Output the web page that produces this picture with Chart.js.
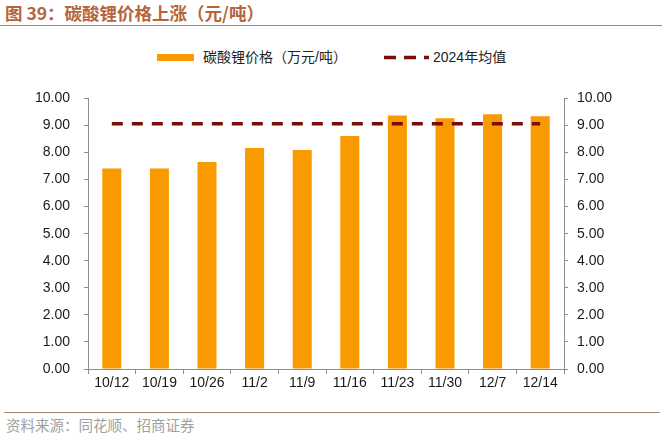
<!DOCTYPE html>
<html>
<head>
<meta charset="utf-8">
<script src="https://cdn.jsdelivr.net/npm/chart.js@4"></script>
<style>
  body { margin: 0; background: #fff; }
  #page { position: relative; width: 666px; height: 448px; overflow: hidden; font-family: "Liberation Sans", "Noto Sans CJK SC", sans-serif; }
  #title { position: absolute; left: 5px; top: 3px; font-size: 17.5px; font-weight: bold; color: #B5643C; font-family: "Noto Sans CJK SC", sans-serif; line-height: 20px; }
  #titleLine { position: absolute; left: 0; top: 25px; width: 662px; height: 1px; background: #A4846A; }
  #wrap { position: absolute; left: 0; top: 76px; width: 666px; height: 334px; }
  .lg { position: absolute; font-size: 14px; color: #222; line-height: 16px; top: 49px; }
  #sw1 { position: absolute; left: 157px; top: 54px; width: 37px; height: 7px; background: #F89A00; }
  #sw2 { position: absolute; left: 383px; top: 54px; }
  #footLine { position: absolute; left: 4px; top: 412px; width: 656px; height: 1px; background: #A4846A; }
  #foot { position: absolute; left: 6px; top: 416px; font-size: 14.5px; color: #A0A0A0; font-family: "Noto Sans CJK SC", sans-serif; line-height: 18px; }
</style>
</head>
<body>
<div id="page">
  <div id="title">图 39：碳酸锂价格上涨（元/吨）</div>
  <div id="titleLine"></div>
  <div id="sw1"></div>
  <div class="lg" style="left:203px">碳酸锂价格（万元/吨）</div>
  <svg id="sw2" width="48" height="7"><line x1="1" y1="3.5" x2="46" y2="3.5" stroke="#7B0C0C" stroke-width="3.5" stroke-dasharray="12,8"/></svg>
  <div class="lg" style="left:433px">2024年均值</div>
  <div id="wrap"><canvas id="chart"></canvas></div>
  <div id="footLine"></div>
  <div id="foot">资料来源：同花顺、招商证券</div>
</div>
<script>
// data
const dates = ['10/12', '10/19', '10/26', '11/2', '11/9', '11/16', '11/23', '11/30', '12/7', '12/14'];
const price = [7.41, 7.41, 7.65, 8.17, 8.09, 8.61, 9.37, 9.27, 9.41, 9.34];
const avg2024 = [9.06, 9.06, 9.06, 9.06, 9.06, 9.06, 9.06, 9.06, 9.06, 9.06];

const axisGray = '#8C8C8C';
const tickFont = { family: 'Liberation Sans', size: 14 };

new Chart(document.getElementById('chart').getContext('2d'), {
    data: {
        labels: dates,
        datasets: [
            {
                type: 'line',
                label: '2024年均值',
                data: avg2024,
                borderColor: '#7B0C0C',
                borderWidth: 3.5,
                borderDash: [11, 9],
                pointRadius: 0,
                fill: false,
                order: 0
            },
            {
                type: 'bar',
                label: '碳酸锂价格（万元/吨）',
                data: price,
                backgroundColor: '#F89A00',
                categoryPercentage: 1,
                barPercentage: 0.4,
                order: 1
            }
        ]
    },
    options: {
        responsive: true,
        maintainAspectRatio: false,
        animation: false,
        layout: { padding: { top: 18, left: 0, right: 0, bottom: 0 } },
        plugins: { legend: { display: false }, tooltip: { enabled: false } },
        scales: {
            x: {
                grid: { drawOnChartArea: false, color: axisGray, tickLength: 5 },
                border: { color: axisGray },
                ticks: { color: '#1a1a1a', font: tickFont, padding: 1, maxRotation: 0 },
                afterFit: (s) => { s.height = 41; }
            },
            y: {
                position: 'left',
                min: 0, max: 10,
                grid: { drawOnChartArea: false, color: axisGray, tickLength: 4 },
                border: { color: axisGray },
                ticks: { stepSize: 1, color: '#1a1a1a', font: tickFont, padding: 14,
                    callback: (v) => v.toFixed(2) },
                afterFit: (s) => { s.width = 88; }
            },
            y2: {
                position: 'right',
                min: 0, max: 10,
                grid: { drawOnChartArea: false, color: axisGray, tickLength: 4 },
                border: { color: axisGray },
                ticks: { stepSize: 1, color: '#1a1a1a', font: tickFont, padding: 9,
                    callback: (v) => v.toFixed(2) },
                afterFit: (s) => { s.width = 102; }
            }
        }
    }
});
</script>
</body>
</html>
